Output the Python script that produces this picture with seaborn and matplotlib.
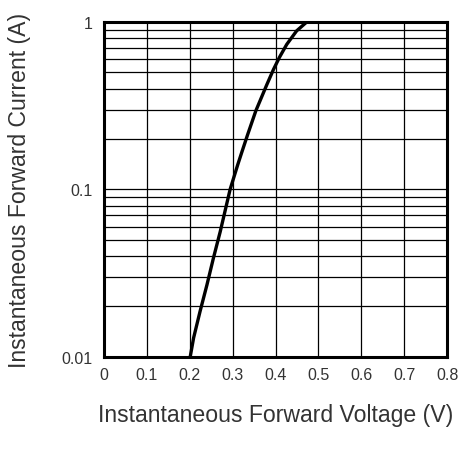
import matplotlib
matplotlib.use("Agg")
import matplotlib.pyplot as plt
import seaborn as sns
import numpy as np
import pandas as pd
from matplotlib.ticker import FixedLocator, LogLocator, NullFormatter

voltage = [0.201, 0.209, 0.224, 0.240, 0.255, 0.271, 0.294, 0.312, 0.321, 0.335,
           0.354, 0.3795, 0.395, 0.409, 0.426, 0.449, 0.4726]
current = [0.0100, 0.0130, 0.0187, 0.0269, 0.0388, 0.0560, 0.100, 0.141, 0.166, 0.213,
           0.295, 0.422, 0.520, 0.615, 0.735, 0.885, 1.0]
x_ticks = [0, 0.1, 0.2, 0.3, 0.4, 0.5, 0.6, 0.7, 0.8]
x_tick_labels = ["0", "0.1", "0.2", "0.3", "0.4", "0.5", "0.6", "0.7", "0.8"]
y_ticks = [0.01, 0.1, 1]
y_tick_labels = ["0.01", "0.1", "1"]

sns.set_style("white")
plt.rcParams["font.family"] = ["Liberation Sans", "DejaVu Sans"]

fig = plt.figure(figsize=(4.62, 4.60), dpi=100)
ax = fig.add_axes([0.225, 0.222, 0.743, 0.728])

df = pd.DataFrame({"V": voltage, "I": current})
sns.lineplot(data=df, x="V", y="I", ax=ax, color="black", linewidth=2.4, sort=False)

ax.set_yscale("log")
ax.set_xlim(0, 0.8)
ax.set_ylim(0.01, 1)
ax.xaxis.set_major_locator(FixedLocator(x_ticks))
ax.set_xticklabels(x_tick_labels)
ax.yaxis.set_major_locator(FixedLocator(y_ticks))
ax.set_yticklabels(y_tick_labels)
ax.yaxis.set_minor_locator(LogLocator(base=10, subs=np.arange(2, 10)))
ax.yaxis.set_minor_formatter(NullFormatter())

ax.grid(True, which="major", axis="both", color="black", linewidth=0.9)
ax.grid(True, which="minor", axis="y", color="black", linewidth=0.9)
ax.tick_params(axis="both", which="both", length=0, labelsize=11.5, labelcolor="#333333")
ax.tick_params(axis="x", pad=7)
ax.tick_params(axis="y", pad=8)

for s in ax.spines.values():
    s.set_visible(True)
    s.set_color("black")
    s.set_linewidth(2.2)

ax.set_xlabel("Instantaneous Forward Voltage (V)", fontsize=16.6, color="#333333", labelpad=15.5)
ax.set_ylabel("Instantaneous Forward Current (A)", fontsize=16.6, color="#333333", labelpad=22)

fig.savefig("out.png", dpi=100)
